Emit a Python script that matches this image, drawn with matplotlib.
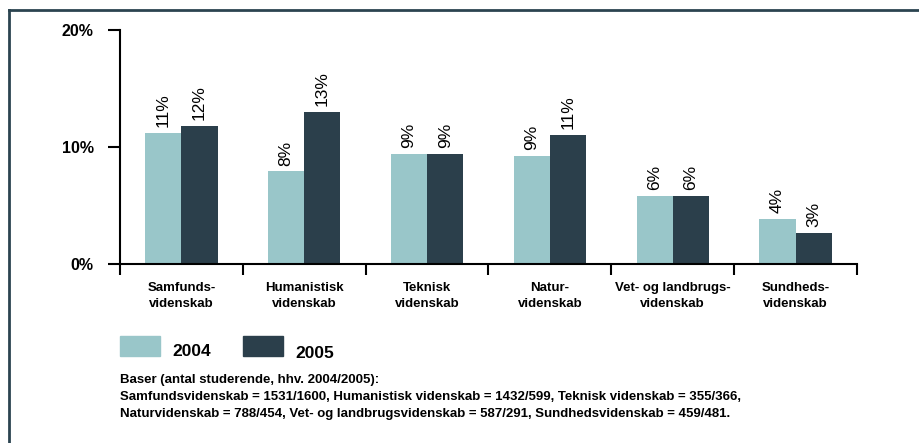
import matplotlib.pyplot as plt
import numpy as np
from matplotlib.lines import Line2D
from matplotlib.patches import Rectangle

categories = ['Samfunds-\nvidenskab', 'Humanistisk\nvidenskab', 'Teknisk\nvidenskab',
              'Natur-\nvidenskab', 'Vet- og landbrugs-\nvidenskab', 'Sundheds-\nvidenskab']
vals_2004 = [11.2, 7.9, 9.4, 9.2, 5.8, 3.8]
vals_2005 = [11.8, 13.0, 9.4, 11.0, 5.8, 2.6]
labels_2004 = ['11%', '8%', '9%', '9%', '6%', '4%']
labels_2005 = ['12%', '13%', '9%', '11%', '6%', '3%']
series = ['2004', '2005']
y_ticks = [0, 10, 20]

c2004 = '#99c6c9'
c2005 = '#2b3f4b'
frame = '#2b4450'
fam = ['Liberation Sans', 'DejaVu Sans']

fig = plt.figure(figsize=(9.2, 4.43), dpi=100)
ax = fig.add_axes([120 / 920, 1 - 263.5 / 443, 737 / 920, 233.2 / 443])

x = np.arange(len(categories))
w = 0.295
ax.bar(x - w / 2, vals_2004, w, color=c2004)
ax.bar(x + w / 2, vals_2005, w, color=c2005)

for xi, v, lab in zip(x - w / 2, vals_2004, labels_2004):
    ax.text(xi, v + 0.5, lab, rotation=90, ha='center', va='bottom',
            fontsize=12.5, family=fam)
for xi, v, lab in zip(x + w / 2, vals_2005, labels_2005):
    ax.text(xi, v + 0.5, lab, rotation=90, ha='center', va='bottom',
            fontsize=12.5, family=fam)

ax.set_xlim(-0.5, len(categories) - 0.5)
ax.set_ylim(0, 20)
ax.set_yticks(y_ticks)
ax.set_yticklabels([f'{t}%' for t in y_ticks], fontsize=11.5, family=fam, fontweight='bold')
ax.set_xticks(np.arange(-0.5, len(categories)))
ax.set_xticklabels([])
ax.set_xticks(x, minor=True)
ax.set_xticklabels(categories, minor=True, fontsize=9.5, family=fam,
                   fontweight='bold', linespacing=1.45)
ax.tick_params(axis='x', which='major', length=8, width=1.5, direction='out')
ax.tick_params(axis='x', which='minor', length=0, pad=13)
ax.tick_params(axis='y', length=9, width=1.5, pad=10)
for s in ['top', 'right']:
    ax.spines[s].set_visible(False)
ax.spines['left'].set_linewidth(1.5)
ax.spines['bottom'].set_linewidth(1.5)

# legend
for i, (name, col) in enumerate(zip(series, [c2004, c2005])):
    x0 = 120 + i * 123
    fig.patches.append(Rectangle((x0 / 920, 1 - 356 / 443), 40 / 920, 20 / 443,
                                 transform=fig.transFigure, color=col))
    fig.text((x0 + 52) / 920, 1 - (352 + 2 * i) / 443, name, fontsize=12.5, family=fam,
             fontweight='bold', va='center')

notes = ['Baser (antal studerende, hhv. 2004/2005):',
         'Samfundsvidenskab = 1531/1600, Humanistisk videnskab = 1432/599, Teknisk videnskab = 355/366,',
         'Naturvidenskab = 788/454, Vet- og landbrugsvidenskab = 587/291, Sundhedsvidenskab = 459/481.']
for i, line in enumerate(notes):
    fig.text(120 / 920, 1 - (380 + i * 17) / 443, line, fontsize=9.5, family=fam,
             fontweight='bold', va='center')

# frame lines (top and left)
fig.add_artist(Line2D([9 / 920, 1], [1 - 10 / 443] * 2, color=frame, lw=2,
                      transform=fig.transFigure))
fig.add_artist(Line2D([9 / 920] * 2, [0, 1 - 10 / 443], color=frame, lw=2,
                      transform=fig.transFigure))

fig.savefig('out.png', dpi=100)
